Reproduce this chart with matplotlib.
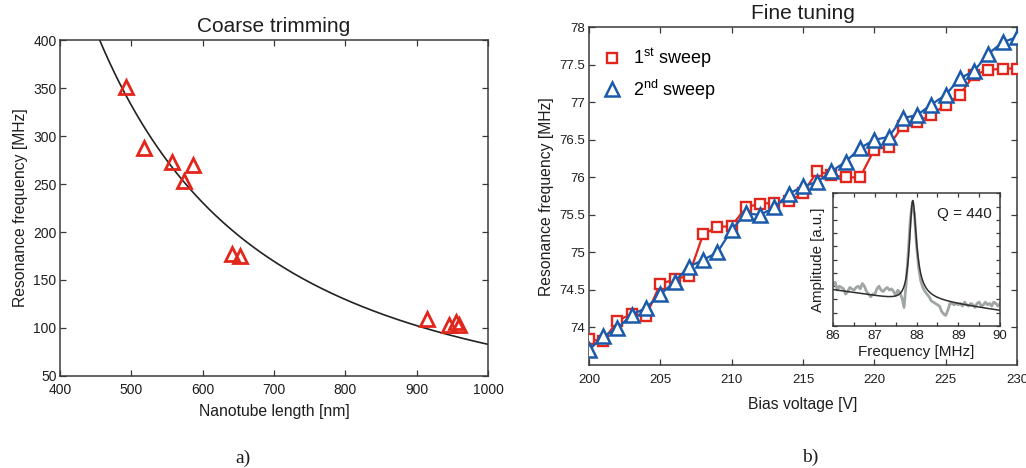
import numpy as np
import matplotlib
matplotlib.use("Agg")
import matplotlib.pyplot as plt
from matplotlib.lines import Line2D

plt.rcParams['font.family'] = ['Liberation Sans', 'DejaVu Sans']
plt.rcParams['mathtext.fontset'] = 'custom'
plt.rcParams['mathtext.rm'] = 'Liberation Sans'
plt.rcParams['mathtext.it'] = 'Liberation Sans:italic'

# ---- (a) coarse trimming: resonance vs nanotube length ----
length_nm = [492, 518, 557, 586, 574, 641, 652, 915, 945, 955, 960]
freq_coarse = [351, 287, 273, 270, 253, 177, 175, 109, 103, 106, 103]
fit_coeff = 8.3e7          # f = C / L^2  (MHz nm^2)

# ---- (b) fine tuning: resonance vs bias voltage ----
bias_v = list(range(200, 231))
sweep1 = [73.84, 73.82, 74.09, 74.18, 74.15, 74.58, 74.64, 74.69, 75.24, 75.34,
          75.35, 75.60, 75.65, 75.66, 75.68, 75.79, 76.08, 76.03, 76.00, 76.00,
          76.37, 76.41, 76.69, 76.74, 76.83, 76.97, 77.10, 77.37, 77.43, 77.45,
          77.45]
sweep2 = [73.70, 73.88, 73.99, 74.17, 74.26, 74.44, 74.61, 74.81, 74.90, 75.00,
          75.30, 75.52, 75.50, 75.60, 75.78, 75.88, 75.94, 76.08, 76.21, 76.39,
          76.50, 76.54, 76.79, 76.83, 76.97, 77.10, 77.32, 77.42, 77.65, 77.80,
          77.87]

# ---- inset: measured resonance spectrum ----
spec_freq = [86.00, 86.05, 86.10, 86.15, 86.20, 86.25, 86.30, 86.35, 86.40, 86.45,
             86.50, 86.55, 86.60, 86.65, 86.70, 86.75, 86.80, 86.85, 86.90, 86.95,
             87.00, 87.05, 87.10, 87.15, 87.20, 87.25, 87.30, 87.35, 87.40, 87.45,
             87.50, 87.55, 87.60, 87.65, 87.70, 87.75, 87.80, 87.85, 87.90, 87.95,
             88.00, 88.05, 88.10, 88.15, 88.20, 88.25, 88.30, 88.35, 88.40, 88.45,
             88.50, 88.55, 88.60, 88.65, 88.70, 88.75, 88.80, 88.85, 88.90, 88.95,
             89.00, 89.05, 89.10, 89.15, 89.20, 89.25, 89.30, 89.35, 89.40, 89.45,
             89.50, 89.55, 89.60, 89.65, 89.70, 89.75, 89.80, 89.85, 89.90, 89.95,
             90.00]
spec_amp = [0.31, 0.33, 0.27, 0.30, 0.29, 0.28, 0.24, 0.26, 0.29, 0.28,
            0.27, 0.29, 0.30, 0.28, 0.32, 0.30, 0.26, 0.24, 0.22, 0.24,
            0.24, 0.28, 0.30, 0.27, 0.26, 0.28, 0.29, 0.27, 0.28, 0.26,
            0.23, 0.27, 0.25, 0.21, 0.14, 0.32, 0.55, 0.80, 0.93, 0.84,
            0.60, 0.44, 0.34, 0.29, 0.26, 0.24, 0.22, 0.19, 0.18, 0.17,
            0.16, 0.15, 0.11, 0.09, 0.08, 0.12, 0.17, 0.17, 0.16, 0.17,
            0.16, 0.17, 0.15, 0.18, 0.16, 0.15, 0.17, 0.16, 0.14, 0.17,
            0.18, 0.15, 0.16, 0.18, 0.16, 0.17, 0.15, 0.18, 0.17, 0.15,
            0.17]
q_factor = 440
peak_freq = 87.9
peak_height = 0.74
base_start, base_slope = 0.28, -0.0425
dispersive = 0.14

RED = '#e3261c'
BLUE = '#1b5aab'
FRAME = '#3a3a3a'
TEXT = '#1e1e1e'

fig = plt.figure(figsize=(10.26, 4.68), dpi=100)


def style_box(ax, labelsize=10):
    for sp in ax.spines.values():
        sp.set_color(FRAME)
        sp.set_linewidth(1.1)
    ax.tick_params(direction='in', top=True, right=True, length=4, width=0.9,
                   color=FRAME, labelsize=labelsize, labelcolor=TEXT, pad=2.5)


# ---------------- panel (a) ----------------
ax1 = fig.add_axes([0.0585, 0.1966, 0.4171, 0.7179])
L = np.linspace(400, 1000, 400)
ax1.plot(L, fit_coeff / L**2, color='#222222', lw=1.2, zorder=2)
ax1.plot(length_nm, freq_coarse, linestyle='none', marker='^', ms=10,
         mfc='none', mec=RED, mew=2.0, zorder=3)
ax1.set_xlim(400, 1000)
ax1.set_ylim(50, 400)
ax1.set_xticks(range(400, 1001, 100))
ax1.set_yticks(range(50, 401, 50))
style_box(ax1, labelsize=10)
ax1.tick_params(axis='x', pad=5)
ax1.set_xlabel('Nanotube length [nm]', fontsize=11.3, color=TEXT, labelpad=5)
ax1.set_ylabel('Resonance frequency [MHz]', fontsize=11.3, color=TEXT, labelpad=4)
ax1.set_title('Coarse trimming', fontsize=15, color=TEXT, pad=6)

# ---------------- panel (b) ----------------
ax2 = fig.add_axes([0.574, 0.2201, 0.4172, 0.7216])
ax2.plot(bias_v, sweep1, color=RED, lw=1.6, marker='s', ms=7,
         mfc='white', mec=RED, mew=1.7, zorder=3)
ax2.plot(bias_v, sweep2, color=BLUE, lw=1.6, marker='^', ms=9.5,
         mfc='white', mec=BLUE, mew=1.8, zorder=4)
ax2.set_xlim(200, 230)
ax2.set_ylim(73.5, 78)
ax2.set_xticks(range(200, 231, 5))
ax2.set_yticks(np.arange(74, 78.01, 0.5))
ax2.set_yticklabels([f'{v:g}' for v in np.arange(74, 78.01, 0.5)])
style_box(ax2, labelsize=9.5)
ax2.tick_params(axis='x', pad=6.5)
ax2.set_xlabel('Bias voltage [V]', fontsize=11.3, color=TEXT, labelpad=8)
ax2.set_ylabel('Resonance frequency [MHz]', fontsize=11.3, color=TEXT, labelpad=4)
ax2.set_title('Fine tuning', fontsize=15, color=TEXT, pad=6)

handles = [
    Line2D([], [], linestyle='none', marker='s', ms=7, mfc='white', mec=RED, mew=1.7),
    Line2D([], [], linestyle='none', marker='^', ms=9.5, mfc='white', mec=BLUE, mew=1.8),
]
ax2.legend(handles, [r'1$^{\mathrm{st}}$ sweep', r'2$^{\mathrm{nd}}$ sweep'],
           loc='upper left', bbox_to_anchor=(0.028, 0.943), frameon=False,
           fontsize=13, handlelength=1.2, handletextpad=0.6, labelspacing=0.42,
           borderaxespad=0, borderpad=0)

# ---------------- inset ----------------
axi = fig.add_axes([0.812, 0.3034, 0.1627, 0.2836])
nu = np.linspace(86, 90, 800)
gamma = peak_freq / (2 * q_factor)
x = (nu - peak_freq) / gamma
fit = (base_start + base_slope * (nu - 86)
       + peak_height / (1 + x**2) + dispersive * x / (1 + x**2))
axi.plot(spec_freq, spec_amp, color='#a0a5a5', lw=2.0, zorder=2)
axi.plot(nu, fit, color='#2e2e2e', lw=1.1, zorder=3)
axi.set_xlim(86, 90)
axi.set_ylim(0, 1)
xt = np.arange(86, 90.01, 0.5)
axi.set_xticks(xt)
axi.set_xticklabels([f'{v:g}' if v == int(v) else '' for v in xt])
axi.set_yticks(np.arange(0, 1.01, 0.1))
axi.set_yticklabels([])
style_box(axi, labelsize=9.5)
axi.tick_params(length=3, pad=3)
axi.set_xlabel('Frequency [MHz]', fontsize=11, color=TEXT, labelpad=2)
axi.set_ylabel('Amplitude [a.u.]', fontsize=10.8, color=TEXT, labelpad=3)
axi.text(0.95, 0.9, f'Q = {q_factor}', transform=axi.transAxes, ha='right',
         va='top', fontsize=11, color=TEXT)

# panel letters
fig.text(243 / 1026, 1 - 458 / 468, 'a)', family='Liberation Serif', fontsize=14,
         ha='center', va='center', color=TEXT)
fig.text(810 / 1026, 1 - 457 / 468, 'b)', family='Liberation Serif', fontsize=14,
         ha='center', va='center', color=TEXT)

fig.savefig('out.png', dpi=100, facecolor='white')
